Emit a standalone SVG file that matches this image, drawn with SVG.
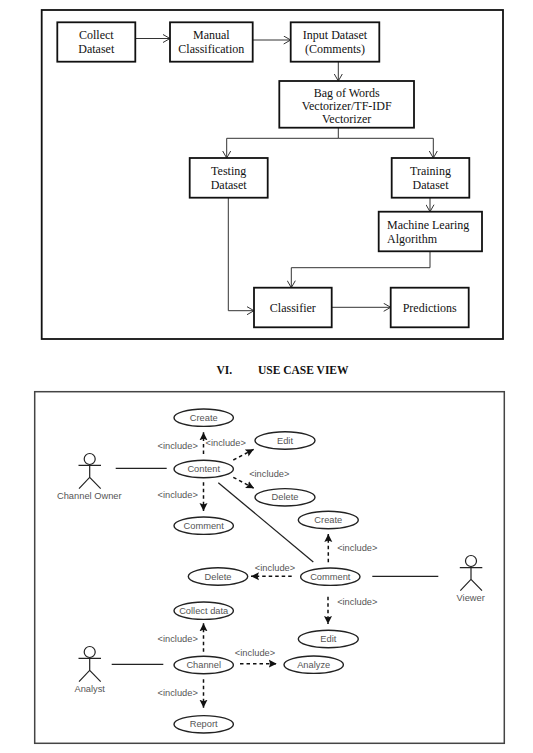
<svg xmlns="http://www.w3.org/2000/svg" width="533" height="753" viewBox="0 0 533 753">
<style>
.box{fill:#fff;stroke:#111;stroke-width:1.8}
.frame{fill:#fff;stroke:#111;stroke-width:1.8}
.frame2{fill:#fff;stroke:#444;stroke-width:1.5}
.t{font-family:"Liberation Serif","Times New Roman",serif;font-size:12px;fill:#111;text-anchor:middle}
.h{font-family:"Liberation Serif","Times New Roman",serif;font-size:11.5px;font-weight:bold;fill:#111}
.u{fill:#fff;stroke:#222;stroke-width:1.4}
.s{font-family:"Liberation Sans",Arial,sans-serif;font-size:9.3px;fill:#555;text-anchor:middle}
.c{fill:none;stroke:#333;stroke-width:1}
.l{fill:none;stroke:#222;stroke-width:1.3}
.d{fill:none;stroke:#111;stroke-width:1.5;stroke-dasharray:3.5 3}
.a{stroke:#222;stroke-width:1.2;fill:none}
</style>
<defs>
<marker id="open" markerWidth="9" markerHeight="9" refX="8" refY="4.5" orient="auto" markerUnits="userSpaceOnUse"><path d="M1 0.5L8 4.5L1 8.5" fill="none" stroke="#333" stroke-width="1"/></marker>
<marker id="solid" markerWidth="9" markerHeight="9" refX="8" refY="4.5" orient="auto" markerUnits="userSpaceOnUse"><path d="M0 0.5L8 4.5L0 8.5L1.5 4.5Z" fill="#111"/></marker>
</defs>
<rect width="533" height="753" fill="#fff"/>
<rect class="frame" x="41.7" y="10" width="461.3" height="329"/>
<rect class="frame2" x="34.7" y="391.7" width="469.6" height="351.6"/>
<text class="h" x="216.5" y="374.3">VI.</text>
<text class="h" x="258" y="374.3">USE CASE VIEW</text>
<g id="connectors">
<path class="c" marker-end="url(#open)" d="M135.3 38.5H170"/>
<path class="c" marker-end="url(#open)" d="M252.7 40H290.7"/>
<path class="c" marker-end="url(#open)" d="M338.3 61.7V81"/>
<path class="c" marker-end="url(#open)" d="M338.3 127.7V138.3H226.7V158"/>
<path class="c" marker-end="url(#open)" d="M338.3 138.3H433.3V158"/>
<path class="c" marker-end="url(#open)" d="M430 197.7V211.7"/>
<path class="c" marker-end="url(#open)" d="M228.3 197.7V310.7H254"/>
<path class="c" marker-end="url(#open)" d="M430 251.3V267.7H291.3V287.7"/>
<path class="c" marker-end="url(#open)" d="M331.7 307.3H390.7"/>
<path class="l" d="M115.7 468.3H166.7"/>
<path class="l" d="M218.3 482.7L313.3 562"/>
<path class="l" d="M372.3 576.3H438.3"/>
<path class="l" d="M111.7 664.3H163.3"/>
<path class="d" marker-end="url(#solid)" d="M203.5 454V432.3"/>
<path class="d" marker-end="url(#solid)" d="M233.3 460L253.7 449.3"/>
<path class="d" marker-end="url(#solid)" d="M233.3 477.3L254 488.3"/>
<path class="d" marker-end="url(#solid)" d="M203.5 482.3V511"/>
<path class="d" marker-end="url(#solid)" d="M328.3 562.3V534"/>
<path class="d" marker-end="url(#solid)" d="M291.7 576.3H251"/>
<path class="d" marker-end="url(#solid)" d="M328 596.7V624"/>
<path class="d" marker-end="url(#solid)" d="M203.5 651.7V623.3"/>
<path class="d" marker-end="url(#solid)" d="M240 663.7H276.7"/>
<path class="d" marker-end="url(#solid)" d="M203.5 679.3V707.7"/>
</g>
<g id="collect-dataset"><rect class="box" x="57.3" y="22.3" width="78" height="39.4"/><text class="t" x="96.3" y="39.3">Collect</text><text class="t" x="96.3" y="53.3">Dataset</text></g>
<g id="manual-classification"><rect class="box" x="170" y="22.3" width="82.7" height="39.4"/><text class="t" x="211.3" y="39.3">Manual</text><text class="t" x="211.3" y="53.3">Classification</text></g>
<g id="input-dataset"><rect class="box" x="290.7" y="22.3" width="88.6" height="39.4"/><text class="t" x="335" y="39.3">Input Dataset</text><text class="t" x="335" y="53.3">(Comments)</text></g>
<g id="bag-of-words"><rect class="box" x="279.3" y="81" width="134.7" height="46.7"/><text class="t" x="346.7" y="97">Bag of Words</text><text class="t" x="346.7" y="110">Vectorizer/TF-IDF</text><text class="t" x="346.7" y="123">Vectorizer</text></g>
<g id="testing-dataset"><rect class="box" x="189.7" y="158" width="78" height="39.7"/><text class="t" x="228.7" y="175.3">Testing</text><text class="t" x="228.7" y="189.3">Dataset</text></g>
<g id="training-dataset"><rect class="box" x="391.7" y="158" width="77.6" height="39.7"/><text class="t" x="430.5" y="175.3">Training</text><text class="t" x="430.5" y="189.3">Dataset</text></g>
<g id="machine-learing"><rect class="box" x="378.7" y="211.7" width="103.3" height="39.6"/><text class="t" style="text-anchor:start" x="387" y="229">Machine Learing</text><text class="t" style="text-anchor:start" x="387" y="243">Algorithm</text></g>
<g id="classifier"><rect class="box" x="254" y="287.7" width="77.7" height="39.6"/><text class="t" x="292.8" y="312">Classifier</text></g>
<g id="predictions"><rect class="box" x="390.7" y="287.7" width="78" height="39.6"/><text class="t" x="429.7" y="312">Predictions</text></g>
<g id="create-1"><ellipse class="u" cx="203.7" cy="417.7" rx="29.7" ry="8.7"/><text class="s" x="203.7" y="420.7">Create</text></g>
<g id="edit-1"><ellipse class="u" cx="285" cy="440.5" rx="30" ry="8.7"/><text class="s" x="285" y="443.5">Edit</text></g>
<g id="content"><ellipse class="u" cx="203.7" cy="469" rx="29.7" ry="8.7"/><text class="s" x="203.7" y="472">Content</text></g>
<g id="delete-1"><ellipse class="u" cx="285" cy="497.3" rx="30" ry="8.7"/><text class="s" x="285" y="500.3">Delete</text></g>
<g id="comment-1"><ellipse class="u" cx="203.7" cy="525.7" rx="29.7" ry="8.7"/><text class="s" x="203.7" y="528.7">Comment</text></g>
<g id="create-2"><ellipse class="u" cx="328.3" cy="520" rx="30" ry="8.7"/><text class="s" x="328.3" y="523">Create</text></g>
<g id="comment-2"><ellipse class="u" cx="330.3" cy="576.7" rx="29.7" ry="8.7"/><text class="s" x="330.3" y="579.7">Comment</text></g>
<g id="delete-2"><ellipse class="u" cx="218" cy="576.5" rx="29.7" ry="8.7"/><text class="s" x="218" y="579.5">Delete</text></g>
<g id="edit-2"><ellipse class="u" cx="328.3" cy="639" rx="30" ry="8.7"/><text class="s" x="328.3" y="642">Edit</text></g>
<g id="collect-data"><ellipse class="u" cx="203.7" cy="610.7" rx="29.7" ry="8.7"/><text class="s" x="203.7" y="613.7">Collect data</text></g>
<g id="channel"><ellipse class="u" cx="203.7" cy="665" rx="29.7" ry="8.7"/><text class="s" x="203.7" y="668">Channel</text></g>
<g id="analyze"><ellipse class="u" cx="313.7" cy="664.7" rx="29.7" ry="8.7"/><text class="s" x="313.7" y="667.7">Analyze</text></g>
<g id="report"><ellipse class="u" cx="203.7" cy="724.3" rx="29.7" ry="8.7"/><text class="s" x="203.7" y="727.3">Report</text></g>
<g id="channel-owner"><circle class="a" cx="89.7" cy="459" r="5.5"/><path class="a" d="M78.5 465.3H101M89.7 464.5V477.3L79 488.7M89.7 477.3L100.7 488.7"/><text class="s" x="89.3" y="499">Channel Owner</text></g>
<g id="viewer"><circle class="a" cx="471" cy="561" r="5.5"/><path class="a" d="M459.8 567.7H482.3M471 566.5V579.3L460.3 590.7M471 579.3L482 590.7"/><text class="s" x="470.7" y="601.3">Viewer</text></g>
<g id="analyst"><circle class="a" cx="89.7" cy="652" r="5.5"/><path class="a" d="M78.5 658.3H101M89.7 657.5V670.3L79 681.7M89.7 670.3L100.7 681.7"/><text class="s" x="89.7" y="692.3">Analyst</text></g>
<g id="include-labels">
<text class="s" x="177.7" y="449">&lt;include&gt;</text>
<text class="s" x="225.7" y="446.3">&lt;include&gt;</text>
<text class="s" x="269.3" y="477.3">&lt;include&gt;</text>
<text class="s" x="177.7" y="497.7">&lt;include&gt;</text>
<text class="s" x="357.3" y="551.3">&lt;include&gt;</text>
<text class="s" x="275" y="570.7">&lt;include&gt;</text>
<text class="s" x="357.3" y="605.3">&lt;include&gt;</text>
<text class="s" x="177.7" y="642.3">&lt;include&gt;</text>
<text class="s" x="255" y="656.3">&lt;include&gt;</text>
<text class="s" x="177.7" y="696">&lt;include&gt;</text>
</g>
</svg>
